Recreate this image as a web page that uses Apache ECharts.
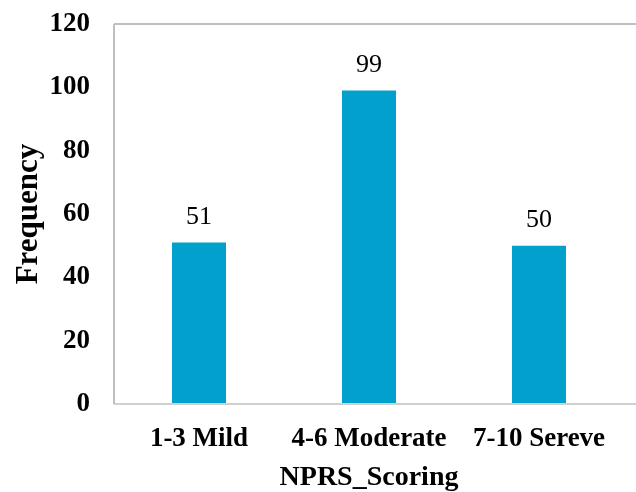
<!DOCTYPE html>
<html>
<head>
<meta charset="utf-8">
<script src="https://cdn.jsdelivr.net/npm/echarts@6/dist/echarts.min.js"></script>
<style>html,body{margin:0;padding:0;background:#fff;}#c{width:636px;height:492px;}</style>
</head>
<body>
<div id="c"></div>
<script>
const categories = ['1-3 Mild', '4-6 Moderate', '7-10 Sereve'];
const frequency = [51, 99, 50];
const yTicks = [0, 20, 40, 60, 80, 100, 120];

const chart = echarts.init(document.getElementById('c'));
const font = "'Liberation Serif', 'Times New Roman', serif";
chart.setOption({
  animation: false,
  grid: { left: 114, top: 24, width: 510, height: 380, outerBoundsMode: 'none', containLabel: false },
  graphic: [
    { type: 'line', z: 10, shape: { x1: 114, y1: 24, x2: 636, y2: 24 }, style: { stroke: '#BFBFBF', lineWidth: 2 } },
    { type: 'line', z: 10, shape: { x1: 114, y1: 404, x2: 636, y2: 404 }, style: { stroke: '#D0D0D0', lineWidth: 2 } },
    { type: 'line', z: 10, shape: { x1: 114, y1: 24, x2: 114, y2: 404 }, style: { stroke: '#BFBFBF', lineWidth: 2 } }
  ],
  xAxis: {
    type: 'category',
    data: categories,
    axisLine: { show: false },
    axisTick: { show: false },
    axisLabel: { interval: 0, hideOverlap: false, fontFamily: font, fontWeight: 'bold', fontSize: 27, color: '#000', margin: 22 },
    name: 'NPRS_Scoring',
    nameLocation: 'middle',
    nameGap: 60,
    nameMoveOverlap: false,
    nameTextStyle: { fontFamily: font, fontWeight: 'bold', fontSize: 28, color: '#000' }
  },
  yAxis: {
    type: 'value',
    min: yTicks[0],
    max: yTicks[yTicks.length - 1],
    interval: 20,
    axisLine: { show: false },
    axisTick: { show: false },
    splitLine: { show: false },
    axisLabel: { fontFamily: font, fontWeight: 'bold', fontSize: 27, color: '#000', margin: 24 },
    name: 'Frequency',
    nameLocation: 'middle',
    nameGap: 70,
    nameMoveOverlap: false,
    nameRotate: 90,
    nameTextStyle: { fontFamily: font, fontWeight: 'bold', fontSize: 31, color: '#000' }
  },
  series: [{
    type: 'bar',
    data: frequency,
    barWidth: 54,
    itemStyle: { color: '#02A0CC' },
    label: { show: true, position: 'top', distance: 12, fontFamily: font, fontSize: 26, color: '#000' }
  }]
});
</script>
</body>
</html>
